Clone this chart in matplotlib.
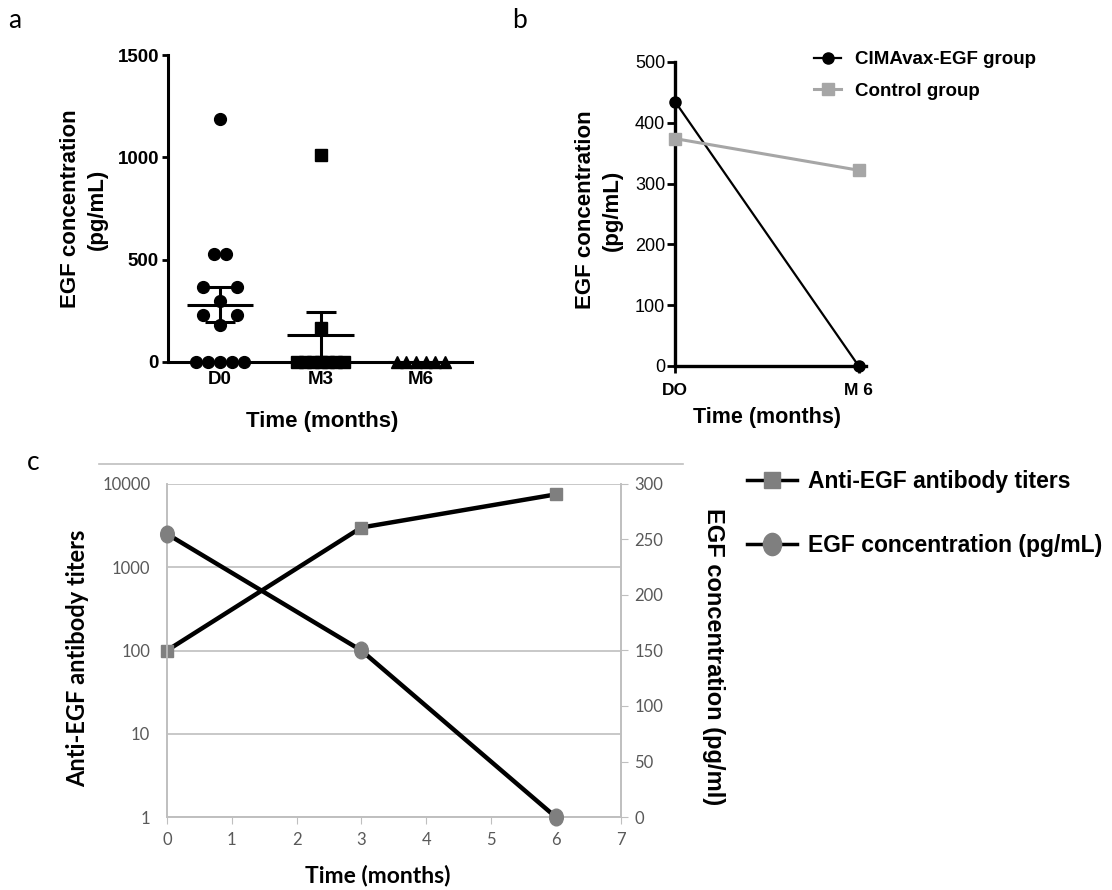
import matplotlib
matplotlib.use("Agg")
import matplotlib.pyplot as plt
import numpy as np
from matplotlib.lines import Line2D
from matplotlib.path import Path

plt.rcParams["font.family"] = ["Liberation Sans", "DejaVu Sans"]

# ---- panel a: EGF concentration per patient ----
groups_a = ["D0", "M3", "M6"]
egf_d0 = [1185, 530, 530, 365, 365, 300, 230, 230, 180, 0, 0, 0, 0, 0]
egf_m3 = [1010, 165, 0, 0, 0, 0, 0, 0, 0]
egf_m6 = [0, 0, 0, 0, 0, 0]

# ---- panel b: group means ----
times_b = ["DO", "M 6"]
cimavax_b = [435, 0]
control_b = [374, 322]

# ---- panel c: titers vs EGF ----
months_c = [0, 3, 6]
titers_c = [100, 3000, 7500]
egf_c = [255, 150, 0]

W, H = 1112, 890
fig = plt.figure(figsize=(W / 100, H / 100), dpi=100)


def add_ax(left, top, right, bottom):
    # axes box given in pixels of the final picture
    return fig.add_axes([left / W, 1 - bottom / H, (right - left) / W, (bottom - top) / H])


def ftext(x, y, s, **kw):
    return fig.text(x / W, 1 - y / H, s, **kw)


def swarm_offsets(vals, px_per_unit, px_per_cat, diam=11.7, max_span=50):
    # simple centred swarm, like the prism scatter layout
    vals = np.asarray(vals, float)
    offs = np.zeros(len(vals))
    clusters = []
    for idx in np.argsort(vals)[::-1]:
        if clusters and (vals[clusters[-1][-1]] - vals[idx]) * px_per_unit < 1.2 * diam:
            clusters[-1].append(idx)
        else:
            clusters.append([idx])
    for cl in clusters:
        n = len(cl)
        if n == 1:
            continue
        mixed = len(set(vals[cl])) > 1
        step = min(diam * (1.45 if mixed else 1.07), max_span / (n - 1))
        slots = sorted((np.arange(n) - (n - 1) / 2) * step, key=lambda s: (abs(s), s))
        for k, s in zip(sorted(cl, key=lambda k: vals[k]), slots):
            offs[k] = s / px_per_cat
    return offs


# ================= a =================
ax_a = add_ax(168, 55, 472, 362)
ax_a.set_xlim(-0.52, 2.51)
ax_a.set_ylim(0, 1500)
markers_a = ["o", "s", "^"]
for i, vals in enumerate([egf_d0, egf_m3, egf_m6]):
    xs = i + swarm_offsets(vals, 307 / 1500, 100.5, max_span=48)
    ax_a.plot(xs, vals, ls="none", marker=markers_a[i], ms=8.5, color="black",
              clip_on=False, zorder=3)
    mean = np.mean(vals)
    sem = np.std(vals, ddof=1) / np.sqrt(len(vals))
    ax_a.hlines(mean, i - 0.33, i + 0.33, color="black", lw=2.2, zorder=4)
    if sem > 0:
        ax_a.errorbar(i, mean, yerr=sem, fmt="none", ecolor="black", elinewidth=2.2,
                      capsize=10.5, capthick=2.2, zorder=4)
ax_a.set_xticks(range(len(groups_a)))
ax_a.set_xticklabels(groups_a)
ax_a.set_yticks([0, 500, 1000, 1500])
for s in ["top", "right"]:
    ax_a.spines[s].set_visible(False)
for s in ["left", "bottom"]:
    ax_a.spines[s].set_linewidth(2.2)
ax_a.tick_params(axis="both", width=2, length=4.5, labelsize=13.5, pad=2)
for lbl in ax_a.get_xticklabels() + ax_a.get_yticklabels():
    lbl.set_fontweight("bold")
ftext(84, 209, "EGF concentration\n(pg/mL)", rotation=90, ha="center", va="center",
      fontsize=16, fontweight="bold", linespacing=1.4, multialignment="center")
ftext(322, 422, "Time (months)", ha="center", va="center", fontsize=16, fontweight="bold")

# ================= b =================
ax_b = add_ax(675, 62, 866, 366)
xb = np.arange(len(times_b))
ax_b.plot(xb, cimavax_b, color="black", lw=1.6, marker="o", ms=8, clip_on=False, zorder=3,
          label="CIMAvax-EGF group")
ax_b.plot(xb, control_b, color="#a6a6a6", lw=2.2, marker="s", ms=8, clip_on=False, zorder=4,
          label="Control group")
ax_b.set_xlim(0, 1.04)
ax_b.set_ylim(0, 500)
ax_b.set_xticks(xb)
ax_b.set_xticklabels(times_b)
ax_b.set_yticks(range(0, 501, 100))
for s in ["top", "right"]:
    ax_b.spines[s].set_visible(False)
for s in ["left", "bottom"]:
    ax_b.spines[s].set_linewidth(2.4)
ax_b.tick_params(axis="y", width=2, length=6, labelsize=13, pad=1)
ax_b.tick_params(axis="x", width=2, length=5, labelsize=12.5, pad=7)
for lbl in ax_b.get_xticklabels():
    lbl.set_fontweight("bold")
ftext(599, 210, "EGF concentration\n(pg/mL)", rotation=90, ha="center", va="center",
      fontsize=16, fontweight="bold", linespacing=1.35, multialignment="center")
ftext(767, 417, "Time (months)", ha="center", va="center", fontsize=15.5, fontweight="bold")
fig.legend(*ax_b.get_legend_handles_labels(), loc="upper left",
           bbox_to_anchor=(814 / W, 1 - 51 / H), frameon=False,
           prop={"weight": "bold", "size": 13.5}, handlelength=1.45, handletextpad=0.75,
           labelspacing=0.76, borderpad=0, borderaxespad=0)

# ================= c =================
grey_line = "#bfbfbf"
grey_txt = "#595959"
grey_mk = "#7f7f7f"
circ = Path.unit_circle()
ellipse = Path(circ.vertices * [0.82, 1.0], circ.codes)

ax_c = add_ax(167, 484, 620.5, 817)
ax_c.set_yscale("log")
ax_c.set_ylim(1, 10000)
ax_c.set_xlim(0, 7)
ax_c.plot(months_c, titers_c, color="black", lw=3.2, marker="s", ms=9, mfc=grey_mk, mec=grey_mk,
          clip_on=False, zorder=3)
ax_c.set_yticks([1, 10, 100, 1000, 10000])
ax_c.set_yticklabels(["1", "10", "100", "1000", "10000"])
ax_c.yaxis.set_minor_locator(matplotlib.ticker.NullLocator())
ax_c.set_xticks(range(0, 8))
ax_c.yaxis.grid(True, color=grey_line, lw=1.2)
ax_c.set_axisbelow(True)

ax_c2 = ax_c.twinx()
ax_c2.set_ylim(0, 300)
ax_c2.plot(months_c, egf_c, color="black", lw=3.2, marker=ellipse, ms=12, mfc=grey_mk, mec=grey_mk,
           clip_on=False, zorder=3)
ax_c2.set_yticks(range(0, 301, 50))

for a in (ax_c, ax_c2):
    a.spines["top"].set_visible(False)
    for s in ["left", "right", "bottom"]:
        a.spines[s].set_color(grey_line)
        a.spines[s].set_linewidth(1.2)
ax_c.tick_params(axis="x", length=5, color=grey_line, labelcolor=grey_txt, labelsize=12,
                 pad=6, labelfontfamily="Lato")
ax_c.tick_params(axis="y", length=0, labelcolor=grey_txt, labelsize=12, pad=12,
                 labelfontfamily="Lato")
ax_c2.tick_params(axis="y", length=5, color=grey_line, labelcolor=grey_txt, labelsize=12,
                  pad=5, labelfontfamily="Lato")

fig.add_artist(Line2D([99 / W, 683 / W], [1 - 464 / H, 1 - 464 / H], color=grey_line, lw=1.2,
                      transform=fig.transFigure))
ftext(78, 658, "Anti-EGF antibody titers", rotation=90, ha="center", va="center",
      fontsize=17, fontweight="bold", family="Lato")
ftext(378, 875, "Time (months)", ha="center", va="center", fontsize=16.5, fontweight="bold",
      family="Lato")
ftext(714, 657, "EGF concentration (pg/ml)", rotation=270, ha="center", va="center",
      fontsize=17, fontweight="bold")

handles_c = [
    Line2D([], [], color="black", lw=2.5, marker="s", ms=12, mfc=grey_mk, mec=grey_mk),
    Line2D([], [], color="black", lw=2.5, marker=ellipse, ms=16, mfc=grey_mk, mec=grey_mk),
]
fig.legend(handles_c, ["Anti-EGF antibody titers", "EGF concentration (pg/mL)"],
           loc="upper left", bbox_to_anchor=(747 / W, 1 - 470 / H), frameon=False,
           prop={"weight": "bold", "size": 16.5}, handlelength=2.2, handletextpad=0.44,
           labelspacing=1.77, borderpad=0, borderaxespad=0)

# panel letters
ftext(15, 21, "a", ha="center", va="center", fontsize=19, family="Lato")
ftext(519, 20, "b", ha="center", va="center", fontsize=19, family="Lato")
ftext(33, 462, "c", ha="center", va="center", fontsize=19, family="Lato")

fig.savefig("out.png", dpi=100)
